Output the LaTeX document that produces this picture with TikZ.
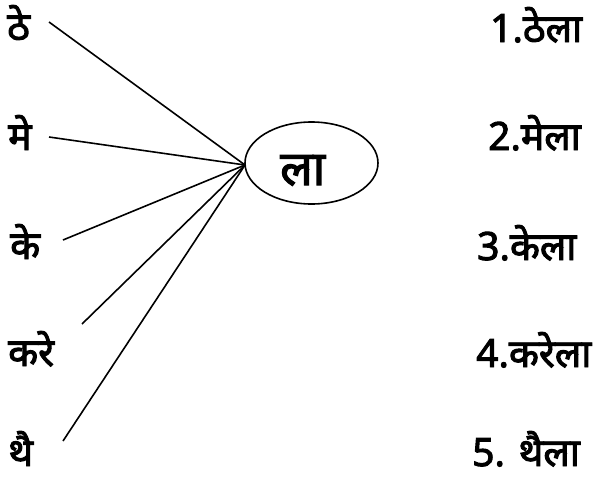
\documentclass[tikz,border=0pt]{standalone}
\usepackage{fontspec}
\setmainfont[Script=Devanagari]{Noto Sans}
\newfontfamily\dev[Script=Devanagari,FakeBold=2.5]{Noto Sans}
\usetikzlibrary{shapes.geometric}
\begin{document}
\begin{tikzpicture}[x=1pt,y=-1pt,
  lbl/.style={font=\dev\fontsize{39}{44}\selectfont, inner sep=0pt, anchor=base west},
  conn/.style={line width=1.6pt, black}]
\useasboundingbox (0,0) rectangle (602,479);
% left syllables
\node[lbl] (l1) at (7,40) {ठे};
\node[lbl] (l2) at (8,150) {मे};
\node[lbl] (l3) at (10,259) {के};
\node[lbl] (l4) at (8,366) {करे};
\node[lbl] (l5) at (8,466) {थै};
% centre
\node[draw, ellipse, line width=1.6pt, minimum width=133pt, minimum height=82pt, inner sep=0pt] (la) at (311.5,163) {};
\node[lbl, font=\dev\fontsize{48}{54}\selectfont] (lat) at (280,185) {ला};
\coordinate (hub) at (245,165);
% line starts
\coordinate (s1) at (49,22);
\coordinate (s2) at (49,137);
\coordinate (s3) at (63,240);
\coordinate (s4) at (82,324);
\coordinate (s5) at (63,441);
\foreach \i in {1,...,5} \draw[conn] (s\i) -- (hub);
% right words
\node[lbl] (r1) at (490,42) {1.ठेला};
\node[lbl] (r2) at (488,150) {2.मेला};
\node[lbl] (r3) at (477,260) {3.केला};
\node[lbl] (r4) at (476,367) {4.करेला};
\node[lbl] (r5) at (472,466) {5. थैला};
\end{tikzpicture}
\end{document}
